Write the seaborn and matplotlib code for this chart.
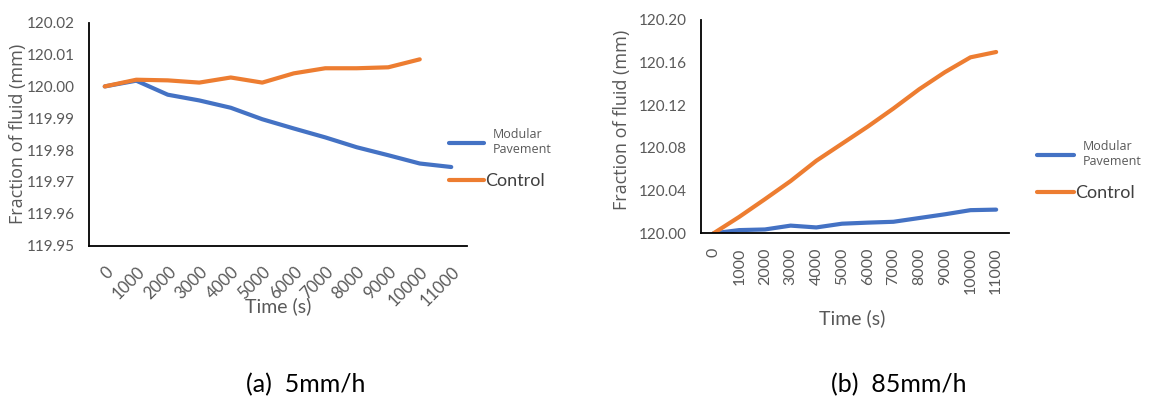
import numpy as np
import pandas as pd
import matplotlib
matplotlib.use("Agg")
import matplotlib.pyplot as plt
from matplotlib.ticker import FixedLocator, FixedFormatter
import seaborn as sns

# Sampling times (s)
times = [0, 1000, 2000, 3000, 4000, 5000, 6000, 7000, 8000, 9000, 10000, 11000]
time_labels = [str(t) for t in times]

# (a) 5 mm/h rainfall
low_modular = [120.0000, 120.0018, 119.9974, 119.9956, 119.9933, 119.9897,
               119.9868, 119.9840, 119.9809, 119.9784, 119.9758, 119.9747]
low_control = [120.0000, 120.0021, 120.0019, 120.0012, 120.0028, 120.0012,
               120.0041, 120.0057, 120.0057, 120.0060, 120.0085]

# (b) 85 mm/h rainfall
high_modular = [120.0000, 120.0030, 120.0036, 120.0072, 120.0055, 120.0090,
                120.0100, 120.0108, 120.0143, 120.0178, 120.0217, 120.0222]
high_control = [120.0000, 120.0154, 120.0320, 120.0490, 120.0680, 120.0840,
                120.1000, 120.1170, 120.1350, 120.1510, 120.1650, 120.1700]

low_ticks = [119.95, 119.96, 119.97, 119.98, 119.99, 120.00, 120.01, 120.02]
high_ticks = [120.00, 120.04, 120.08, 120.12, 120.16, 120.20]

series_names = ["Modular\nPavement", "Control"]
palette = {"Modular\nPavement": "#4472C4", "Control": "#ED7D31"}

GREY = "#595959"

sns.set_theme(style="white")
plt.rcParams["font.family"] = ["Lato", "DejaVu Sans"]


def long_frame(modular, control):
    a = pd.DataFrame({"time": times[:len(modular)], "value": modular,
                      "series": series_names[0]})
    b = pd.DataFrame({"time": times[:len(control)], "value": control,
                      "series": series_names[1]})
    return pd.concat([a, b], ignore_index=True)


fig = plt.figure(figsize=(11.52, 4.03), dpi=100)
ax1 = fig.add_axes([89 / 1152, 1 - 245.7 / 403, 378 / 1152, 223 / 403])
ax2 = fig.add_axes([700.7 / 1152, 1 - 233.3 / 403, 308.3 / 1152, 213.3 / 403])


def style_axes(ax, df, yticks):
    sns.lineplot(data=df, x="time", y="value", hue="series", palette=palette,
                 hue_order=series_names, linewidth=3.0, legend=False, ax=ax,
                 solid_capstyle="round")
    ax.set_xlim(-500, 11500)
    ax.set_ylim(yticks[0], yticks[-1])
    for s in ["top", "right"]:
        ax.spines[s].set_visible(False)
    for s in ["left", "bottom"]:
        ax.spines[s].set_color("black")
        ax.spines[s].set_linewidth(1.3)
    ax.xaxis.set_major_locator(FixedLocator(times))
    ax.xaxis.set_major_formatter(FixedFormatter(time_labels))
    ax.xaxis.set_minor_locator(FixedLocator([t + 500 for t in times]))
    ax.set_yticks(yticks)
    ax.set_yticklabels([f"{v:.2f}" for v in yticks])
    ax.tick_params(axis="x", which="major", length=0, colors=GREY,
                   labelsize=11.5)
    ax.tick_params(axis="x", which="minor", direction="in", length=5,
                   width=1.3, color="black")
    ax.tick_params(axis="y", direction="in", length=5, width=1.3,
                   color="black", labelcolor=GREY, labelsize=11, pad=10)
    ax.set_xlabel("")
    ax.set_ylabel("Fraction of fluid (mm)", family="Open Sans", fontsize=13,
                  color=GREY)
    ax.grid(False)
    return ax


style_axes(ax1, long_frame(low_modular, low_control), low_ticks)
style_axes(ax2, long_frame(high_modular, high_control), high_ticks)

for lab in ax1.get_xticklabels():
    lab.set_rotation(45)
    lab.set_ha("right")
    lab.set_va("top")
    lab.set_rotation_mode("anchor")
    lab.set_fontsize(12)
ax1.tick_params(axis="x", which="major", pad=13)

for lab in ax2.get_xticklabels():
    lab.set_rotation(90)
    lab.set_ha("center")
    lab.set_va("top")
ax2.tick_params(axis="x", which="major", pad=10)

ax1.yaxis.set_label_coords(-0.165, 0.5)
ax2.yaxis.set_label_coords(-0.226, 0.53)

fig.text(278 / 1152, 1 - 306 / 403, "Time (s)", ha="center", va="center",
         fontsize=14, color=GREY)
fig.text(852 / 1152, 1 - 318 / 403, "Time (s)", ha="center", va="center",
         fontsize=14, color=GREY)


def side_legend(ax, x0, y_mod, y_ctl, hlen_px):
    lines = ax.get_lines()
    h_mod = [l for l in lines if l.get_color() == palette[series_names[0]]][0]
    h_ctl = [l for l in lines if l.get_color() == palette[series_names[1]]][0]
    lg1 = fig.legend([h_mod], [series_names[0]], loc="center left",
                     bbox_to_anchor=(x0 / 1152, 1 - y_mod / 403),
                     frameon=False, borderpad=0, borderaxespad=0,
                     handlelength=hlen_px / 12.5, handletextpad=0.7,
                     prop={"family": "Open Sans", "size": 9})
    lg1.get_texts()[0].set_color(GREY)
    lg2 = fig.legend([h_ctl], [series_names[1]], loc="center left",
                     bbox_to_anchor=(x0 / 1152, 1 - y_ctl / 403),
                     frameon=False, borderpad=0, borderaxespad=0,
                     handlelength=hlen_px / 18.1, handletextpad=0.05,
                     prop={"size": 13})
    lg2.get_texts()[0].set_color("#404040")


side_legend(ax1, 449, 142, 181, 35)
side_legend(ax2, 1037, 154, 193, 37)

fig.text(306 / 1152, 1 - 385 / 403, "(a)  5mm/h", ha="center", va="center",
         fontsize=18, color="black")
fig.text(899 / 1152, 1 - 385 / 403, "(b)  85mm/h", ha="center", va="center",
         fontsize=18, color="black")

fig.savefig("out.png", dpi=100, facecolor="white")
